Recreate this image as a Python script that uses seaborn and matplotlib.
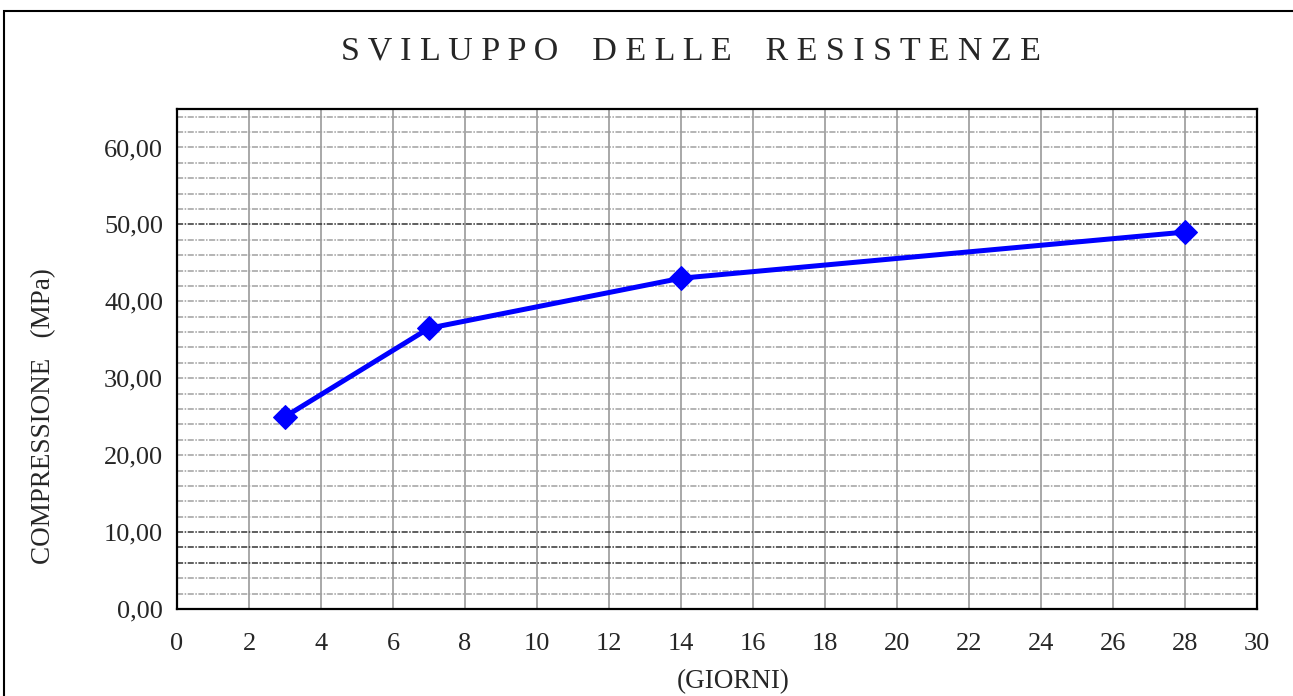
import numpy as np
import pandas as pd
import seaborn as sns
import matplotlib.pyplot as plt
from matplotlib.patches import Rectangle
from matplotlib.ticker import FuncFormatter, MultipleLocator

# data
giorni = [3, 7, 14, 28]
compressione = [25.0, 36.5, 43.0, 49.0]

title = "SVILUPPO DELLE RESISTENZE"
x_label = "(GIORNI)"
y_label = "COMPRESSIONE   (MPa)"

sns.set_style("white")
plt.rcParams["font.family"] = ["Liberation Serif", "DejaVu Serif"]

df = pd.DataFrame({"giorni": giorni, "compressione": compressione})

fig = plt.figure(figsize=(12.93, 6.96), dpi=100)
ax = fig.add_axes([0.1369, 0.125, 0.9722 - 0.1369, 0.8434 - 0.125])

# outer frame of the figure
fig.patches.append(Rectangle((4 / 1293, -0.1), 1.2, 1 - 11 / 696 + 0.1,
                             transform=fig.transFigure, fill=False,
                             edgecolor="black", linewidth=1.5))

# grid: vertical every 2 days, horizontal dashed every 2 MPa
for xv in range(2, 30, 2):
    ax.axvline(xv, color="#9a9a9a", linewidth=1.2, zorder=1)
dark = {6, 8, 10, 50}
for yv in range(2, 66, 2):
    col = "#333333" if yv in dark else "#a0a0a0"
    ax.axhline(yv, color=col, linewidth=1.1, linestyle=(0, (4, 1, 1, 1)), zorder=1)

sns.lineplot(data=df, x="giorni", y="compressione", ax=ax, color="#0000ff",
             linewidth=3.6, marker="D", markersize=12, markeredgecolor="#0000ff", zorder=3)

ax.set_xlim(0, 30)
ax.set_ylim(0, 65)
ax.xaxis.set_major_locator(MultipleLocator(2))
ax.yaxis.set_major_locator(MultipleLocator(10))
ax.yaxis.set_major_formatter(FuncFormatter(lambda v, p: f"{v:.2f}".replace(".", ",")))
ax.tick_params(axis="both", length=0, labelsize=19)
ax.tick_params(axis="y", pad=10)
ax.tick_params(axis="x", pad=17)
ax.set_xlabel("")
ax.set_ylabel("")
for s in ax.spines.values():
    s.set_color("black")
    s.set_linewidth(1.6)

fig.text(0.534, 0.927, " ".join(title).replace("   ", "    "), ha="center", va="center",
         fontsize=24.5)
fig.text(0.567, 0.02, x_label, ha="center", va="center", fontsize=19.5)
fig.text(0.034, 0.402, y_label, ha="center", va="center", rotation=90, fontsize=19.5)

fig.savefig("out.png", dpi=100)
